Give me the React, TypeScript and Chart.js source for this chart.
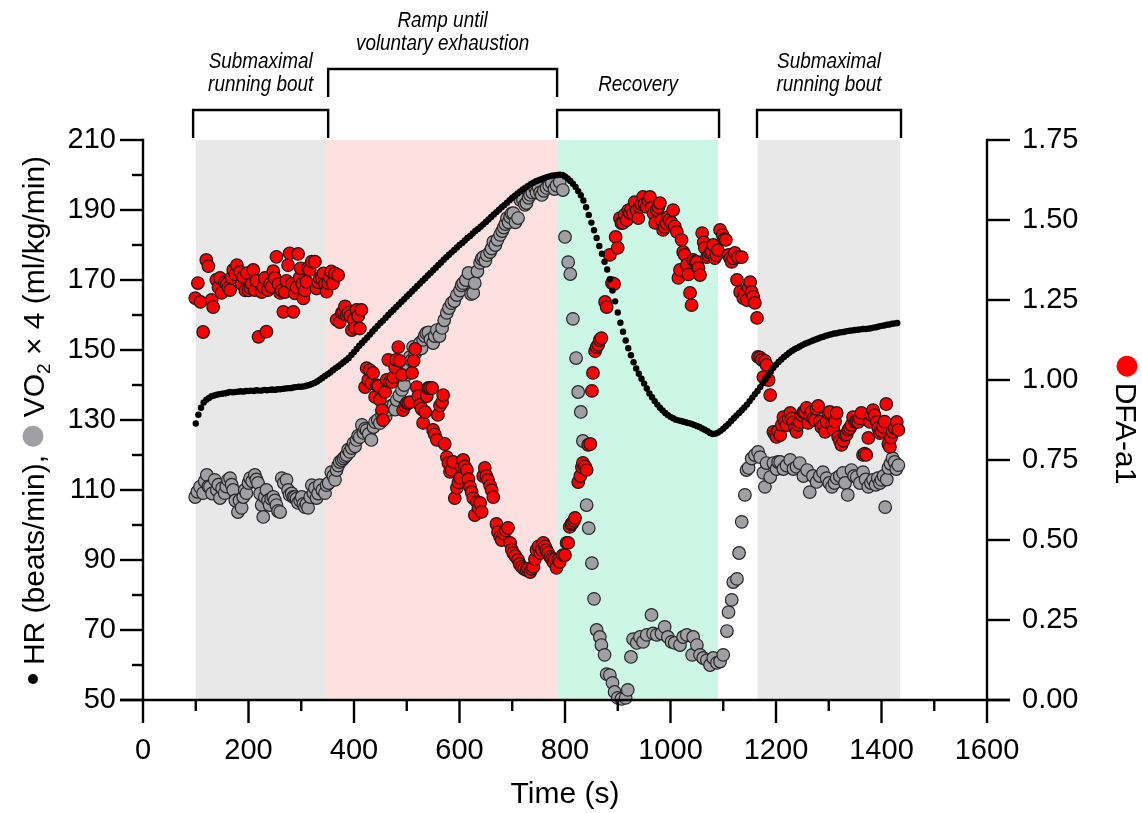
import React, { useEffect, useRef } from "react";
import { Chart, registerables } from "chart.js";

Chart.register(...registerables);

const FONT = "'Liberation Sans', Arial, Helvetica, sans-serif";

// ---------------- data ----------------
// Heart rate (beats/min), one value every 5 s starting at 100 s
const hrStart = 100;
const hrStep = 5;
const hrValues = [
  129, 131.5, 133.5, 135, 135.8, 136.3, 136.8, 137, 137.2, 137.4,
  137.5, 137.6, 137.8, 138, 137.9, 138, 138.1, 138.2, 138.1, 138.3,
  138.3, 138.4, 138.3, 138.5, 138.4, 138.4, 138.6, 138.5, 138.6, 138.7,
  138.6, 138.8, 138.8, 138.9, 139, 139.1, 139.1, 139.3, 139.4, 139.5,
  139.5, 139.6, 139.8, 140, 140.3, 140.6, 141, 141.5, 142, 142.6,
  143.1, 143.6, 144.2, 144.8, 145.3, 145.9, 146.5, 147.1, 147.7, 148.6,
  149.4, 150.3, 151.2, 152, 152.8, 153.6, 154.4, 155.3, 156.1, 156.9,
  157.7, 158.4, 159.2, 160, 160.8, 161.5, 162.3, 163, 163.8, 164.5,
  165.3, 166, 166.8, 167.5, 168.3, 169, 169.8, 170.5, 171.3, 172,
  172.8, 173.5, 174.3, 175, 175.8, 176.5, 177.2, 177.9, 178.6, 179.3,
  180, 180.6, 181.3, 182, 182.6, 183.3, 184, 184.6, 185.2, 185.9,
  186.6, 187.3, 188, 188.7, 189.4, 190.1, 190.8, 191.4, 192.1, 192.8,
  193.5, 194.1, 194.7, 195.3, 195.9, 196.4, 196.9, 197.4, 197.8, 198.2,
  198.5, 198.8, 199.1, 199.4, 199.6, 199.8, 199.9, 200,
  200.1, 200, 199.6, 199, 198.3, 197.5, 196.6, 195.4, 194.2, 192.7,
  190.8, 188.6, 186.4, 184.2, 182, 179.7, 177.5, 175.2, 173, 170.2,
  167, 163.9, 160.7, 157.8, 155.2, 152.7, 150.5, 148.5, 146.5, 144.7,
  143.2, 141.8, 140.4, 139, 137.6, 136.5, 135.4, 134.4, 133.5, 132.7,
  132, 131.4, 130.9, 130.5, 130.1, 129.9, 129.7, 129.5, 129.3, 129.1,
  128.9, 128.6, 128.3, 128, 127.6, 127.2, 126.8, 126.3, 126, 126.1,
  126.4, 126.9, 127.5, 128.2, 128.9, 129.7, 130.5, 131.3, 132, 132.8,
  133.6, 134.4, 135.4, 136.4, 137.4, 138.3, 139.4, 140.5, 141.6, 142.7,
  143.8, 144.9, 145.8, 146.6, 147.3, 148, 148.6, 149.2, 149.7, 150.2,
  150.6, 151, 151.4, 151.8, 152.1, 152.4, 152.7, 153, 153.3, 153.6,
  153.8, 154.1, 154.3, 154.5, 154.7, 154.8, 155, 155.1, 155.2, 155.4,
  155.5, 155.6, 155.7, 155.8, 155.9, 156, 156, 156.1, 156.2, 156.4,
  156.5, 156.7, 156.9, 157, 157.2, 157.3, 157.5, 157.6, 157.7,
];

// VO2 x 4 (ml/kg/min): [time s, value]
const vo2Samples: [number, number][] = [
  [99, 108], [103, 109.5], [108, 110.9], [114, 109.1], [117, 112.5], [121, 114.3], [124, 111], [127, 110.9],
  [131, 109], [136, 112.9], [140, 110], [143, 111.5], [146, 107.7], [150, 110.5], [155, 109.1], [158, 111],
  [161, 112.9], [165, 113.4], [168, 111.5], [171, 110], [175, 107], [180, 103.7], [183, 107], [187, 104.9],
  [190, 108], [193, 110], [196, 109.1], [200, 112], [203, 113.4], [207, 112.5], [212, 114.3], [215, 113],
  [218, 112], [222, 109], [225, 105.7], [228, 102.3], [231, 108], [234, 110], [237, 107], [240, 105.7],
  [243, 107.5], [247, 108], [250, 107], [253, 105.7], [256, 104], [260, 103.7], [263, 113.4], [267, 112],
  [272, 112.9], [275, 110], [278, 108.6], [282, 109], [285, 108], [288, 108], [291, 107.5], [294, 106.3],
  [298, 107], [301, 108], [304, 106], [307, 105.1], [310, 106], [313, 104.9], [317, 108], [320, 111.4],
  [323, 109.1], [326, 110.5], [329, 107.7], [332, 109], [335, 111.4], [340, 110], [345, 109.1], [348, 111.4],
  [352, 112], [357, 115.1], [361, 114], [364, 112.9], [367, 115.7], [370, 117], [373, 118], [377, 118.5],
  [380, 119], [383, 119.5], [386, 120], [389, 121.5], [392, 120.9], [396, 122], [399, 123.4], [402, 122.5],
  [405, 124.3], [408, 125.5], [411, 125.1], [415, 128.6], [418, 126.3], [421, 127.5], [424, 127.1], [428, 126],
  [433, 124.3], [437, 128], [440, 129.4], [445, 130], [449, 129.1], [453, 131.5], [456, 132.3], [460, 131],
  [465, 132.9], [470, 134], [475, 134.3], [478, 133], [481, 135.7], [486, 137], [491, 138.6], [495, 140],
  [500, 143], [503, 145], [506, 148], [509, 147], [512, 150.9], [516, 149], [519, 150], [522, 151],
  [525, 152], [528, 150.5], [531, 152.9], [534, 154], [537, 154.8], [541, 155], [545, 153], [550, 152],
  [553, 154], [557, 155.7], [562, 154], [567, 156.3], [571, 158.5], [576, 160.6], [580, 162], [585, 163.4],
  [590, 164], [595, 165.7], [601, 167], [604, 168.5], [607, 169.1], [612, 170], [617, 172], [622, 166],
  [626, 166.3], [629, 169.1], [634, 172.5], [639, 174.9], [642, 176], [645, 176.5], [649, 175.5], [652, 177.1],
  [658, 178], [661, 179], [664, 180.9], [668, 180], [672, 181.5], [677, 182.9], [681, 184], [684, 185],
  [687, 186], [690, 187.7], [693, 186.5], [696, 188], [699, 189], [702, 189.1], [706, 186.5], [711, 187.7],
  [715, 192.9], [720, 193], [724, 191.5], [727, 192], [731, 193.5], [734, 194.3], [738, 195], [743, 196.3],
  [746, 195], [750, 196.5], [753, 195], [756, 194.3], [760, 195.5], [765, 196.3], [770, 197], [775, 197.7],
  [780, 196], [784, 197], [790, 198], [796, 195.7],
  [800, 182.3], [806, 175.1], [810, 171.7], [815, 158.9], [821, 147.7], [825, 138], [830, 132.3], [834, 124],
  [841, 105.7], [845, 99.1], [851, 89.1], [855, 78.9], [860, 70], [866, 68], [869, 65.7], [875, 62.9],
  [879, 57.4], [885, 57.1], [890, 54.9], [894, 52.3], [900, 50.6], [907, 50.3], [915, 50.6], [919, 52.9],
  [925, 62.3], [929, 67.4], [936, 66.3], [942, 68], [948, 66.6], [955, 68.6], [964, 74.3], [967, 69],
  [974, 68.6], [983, 69], [989, 70.9], [995, 68], [1002, 66.6], [1008, 66.3], [1018, 65.7], [1024, 68],
  [1031, 68.6], [1041, 62.9], [1043, 68], [1050, 65.7], [1056, 62.9], [1062, 62], [1069, 61.4], [1075, 60],
  [1081, 62], [1088, 60.6], [1094, 61], [1100, 62.9], [1107, 69.7], [1110, 75.1], [1116, 78.6], [1119, 83.7],
  [1126, 84.6], [1130, 92], [1135, 100.9], [1141, 108.6], [1144, 115.7], [1148, 116.3], [1154, 119], [1160, 120],
  [1166, 120.9], [1170, 119.4], [1176, 114.9], [1179, 110.9], [1182, 117.7], [1189, 113.7], [1195, 117.7], [1201, 116],
  [1204, 118], [1208, 118], [1214, 116], [1220, 117], [1227, 118.6], [1233, 116], [1239, 116.6], [1245, 117.7],
  [1252, 114], [1259, 115.7], [1264, 109.4], [1270, 114], [1277, 112.3], [1283, 114], [1289, 115.1], [1296, 113.4],
  [1301, 112], [1306, 110.9], [1311, 112], [1315, 113.4], [1321, 114], [1327, 114.9], [1331, 112], [1336, 108.6],
  [1343, 115.7], [1348, 114], [1353, 113.7], [1359, 112], [1365, 115.1], [1370, 113], [1375, 110.9], [1380, 112],
  [1384, 112.9], [1389, 111.5], [1393, 113.4], [1397, 112], [1400, 112.9], [1404, 114], [1407, 105.1], [1410, 113],
  [1413, 116.3], [1417, 117.5], [1421, 119.1], [1425, 118], [1428, 116], [1432, 117.1],
];

// DFA-a1: [time s, value]
const dfaSamples: [number, number][] = [
  [99, 1.256], [104, 1.303], [109, 1.244], [114, 1.15], [120, 1.375], [124, 1.356], [130, 1.25], [133, 1.228],
  [139, 1.313], [143, 1.29], [146, 1.319], [149, 1.272], [155, 1.306], [159, 1.3], [162, 1.288], [165, 1.281],
  [168, 1.32], [171, 1.344], [175, 1.33], [178, 1.359], [184, 1.338], [187, 1.3], [190, 1.322], [194, 1.28],
  [197, 1.334], [200, 1.28], [203, 1.288], [206, 1.3], [209, 1.344], [212, 1.281], [215, 1.31], [219, 1.135],
  [225, 1.275], [228, 1.29], [231, 1.319], [234, 1.151], [237, 1.281], [241, 1.3], [244, 1.291], [247, 1.34],
  [250, 1.319], [253, 1.385], [257, 1.3], [260, 1.272], [263, 1.28], [266, 1.213], [269, 1.275], [272, 1.31],
  [275, 1.359], [278, 1.396], [282, 1.3], [285, 1.213], [288, 1.271], [291, 1.29], [294, 1.394], [297, 1.32],
  [299, 1.349], [302, 1.3], [304, 1.255], [307, 1.28], [310, 1.307], [313, 1.35], [316, 1.344], [320, 1.37],
  [326, 1.37], [329, 1.286], [332, 1.306], [335, 1.318], [339, 1.319], [342, 1.333], [345, 1.3], [348, 1.276],
  [351, 1.303], [354, 1.32], [357, 1.339], [360, 1.302], [364, 1.333], [370, 1.328],
  [367, 1.188], [373, 1.181], [377, 1.21], [380, 1.213], [383, 1.23], [386, 1.203], [389, 1.21], [393, 1.2],
  [396, 1.156], [399, 1.188], [402, 1.163], [405, 1.219], [408, 1.2], [411, 1.161], [414, 1.219],
  [421, 0.978], [424, 1.037], [427, 1.0], [430, 1.031], [433, 0.99], [436, 1.022], [440, 0.947], [443, 0.984],
  [446, 0.981], [449, 0.938], [453, 0.906], [455, 0.875], [459, 0.963], [462, 1.0], [465, 1.063], [468, 0.994],
  [472, 0.994], [475, 1.009], [478, 1.04], [480, 1.063], [484, 1.103], [487, 1.06], [491, 1.016], [493, 0.906],
  [497, 0.92], [500, 0.928], [503, 0.928], [506, 0.931], [510, 1.022], [513, 1.06], [516, 1.097], [519, 0.978],
  [522, 0.95], [525, 0.922], [528, 0.91], [531, 0.866], [535, 0.9], [538, 0.95], [541, 0.975], [544, 0.975],
  [548, 0.975], [550, 0.844], [553, 0.83], [557, 0.813], [559, 0.891], [563, 0.92], [567, 0.931], [569, 0.953],
  [572, 0.8], [576, 0.759], [579, 0.74], [582, 0.713], [585, 0.72], [588, 0.744], [591, 0.631], [595, 0.663],
  [598, 0.68], [601, 0.694], [604, 0.73], [607, 0.75], [610, 0.73], [614, 0.719], [617, 0.69], [620, 0.666],
  [623, 0.65], [626, 0.631], [629, 0.578], [633, 0.619], [636, 0.6], [639, 0.616], [642, 0.588], [645, 0.7],
  [648, 0.725], [651, 0.7], [654, 0.688], [658, 0.67], [661, 0.656], [664, 0.634], [670, 0.55], [673, 0.525],
  [677, 0.51], [680, 0.5], [684, 0.52], [688, 0.53], [692, 0.538], [696, 0.491], [699, 0.47], [702, 0.459],
  [706, 0.45], [711, 0.438], [714, 0.425], [718, 0.416], [722, 0.41], [727, 0.406], [730, 0.41], [734, 0.4],
  [737, 0.41], [740, 0.416], [743, 0.44], [746, 0.469], [750, 0.48], [753, 0.459], [756, 0.47], [759, 0.491],
  [762, 0.48], [765, 0.469], [768, 0.46], [772, 0.447], [775, 0.44], [778, 0.431], [781, 0.44], [784, 0.413],
  [787, 0.438], [790, 0.431], [796, 0.453], [800, 0.453], [803, 0.491], [806, 0.491], [809, 0.541], [812, 0.55],
  [814, 0.553], [817, 0.56], [819, 0.569], [825, 0.681], [829, 0.7], [832, 0.728], [834, 0.741], [838, 0.73],
  [841, 0.719], [844, 0.797], [848, 0.8], [851, 0.966], [853, 1.022], [857, 1.09], [860, 1.103], [863, 1.11],
  [866, 1.125], [869, 1.131], [876, 1.244], [879, 1.228], [885, 1.391], [889, 1.303], [893, 1.3], [896, 1.447],
  [900, 1.413], [904, 1.506], [907, 1.49], [910, 1.491], [913, 1.516], [917, 1.5], [920, 1.53], [923, 1.522],
  [926, 1.535], [929, 1.52], [932, 1.556], [936, 1.53], [939, 1.506], [942, 1.541], [945, 1.55], [948, 1.572],
  [951, 1.55], [955, 1.541], [958, 1.56], [961, 1.572], [964, 1.538], [968, 1.52], [971, 1.491], [974, 1.531],
  [977, 1.54], [980, 1.553], [983, 1.5], [986, 1.469], [989, 1.478], [992, 1.49], [995, 1.509], [998, 1.5],
  [1002, 1.491], [1005, 1.531], [1008, 1.48], [1012, 1.463], [1015, 1.319], [1018, 1.344], [1021, 1.438], [1024, 1.4],
  [1027, 1.391], [1031, 1.36], [1034, 1.33], [1037, 1.272], [1040, 1.234], [1043, 1.375], [1047, 1.37], [1050, 1.369],
  [1053, 1.35], [1056, 1.328], [1060, 1.459], [1063, 1.43], [1065, 1.413], [1069, 1.384], [1072, 1.39], [1075, 1.397],
  [1078, 1.4], [1081, 1.422], [1084, 1.381], [1087, 1.39], [1090, 1.406], [1094, 1.469], [1099, 1.453], [1102, 1.44],
  [1105, 1.438], [1110, 1.391], [1113, 1.38], [1116, 1.369], [1119, 1.38], [1122, 1.397], [1126, 1.313], [1128, 1.384],
  [1132, 1.275], [1135, 1.384], [1138, 1.256], [1141, 1.27], [1145, 1.25], [1148, 1.29], [1151, 1.306], [1154, 1.275],
  [1157, 1.26], [1160, 1.241], [1164, 1.194], [1166, 1.072], [1170, 1.07], [1173, 1.063], [1176, 1.009], [1179, 1.06],
  [1182, 1.047], [1186, 1.0], [1189, 0.953], [1195, 0.838], [1198, 0.83], [1201, 0.822], [1204, 0.84], [1208, 0.828],
  [1211, 0.86], [1214, 0.884], [1217, 0.87], [1220, 0.859], [1224, 0.88], [1227, 0.897], [1230, 0.88], [1233, 0.869],
  [1236, 0.85], [1239, 0.838], [1242, 0.86], [1245, 0.869], [1249, 0.89], [1252, 0.9], [1255, 0.9], [1258, 0.913],
  [1261, 0.866], [1264, 0.89], [1267, 0.9], [1271, 0.88], [1274, 0.875], [1277, 0.91], [1280, 0.919], [1283, 0.87],
  [1286, 0.853], [1290, 0.86], [1293, 0.838], [1296, 0.87], [1299, 0.897], [1302, 0.9], [1306, 0.86], [1309, 0.844],
  [1312, 0.87], [1315, 0.897], [1318, 0.822], [1321, 0.81], [1324, 0.797], [1328, 0.81], [1331, 0.828], [1334, 0.83],
  [1337, 0.844], [1340, 0.85], [1343, 0.859], [1346, 0.884], [1350, 0.87], [1353, 0.87], [1356, 0.869], [1359, 0.88],
  [1362, 0.897], [1365, 0.766], [1368, 0.77], [1371, 0.766], [1375, 0.819], [1378, 0.869], [1381, 0.89], [1384, 0.906],
  [1387, 0.89], [1391, 0.869], [1394, 0.85], [1397, 0.834], [1400, 0.84], [1403, 0.853], [1406, 0.87], [1409, 0.925],
  [1413, 0.8], [1416, 0.791], [1418, 0.82], [1421, 0.838], [1425, 0.85], [1429, 0.869], [1432, 0.844],
];

// axis ranges: [min, max, step]
const timeAxis = [0, 1600, 200];
const leftAxis = [50, 210, 20];
const rightAxis = [0, 1.75, 0.25];

// exercise phases (s)
const phaseStart = [100, 345, 785, 1165];
const phaseEnd = [345, 785, 1090, 1435];
const phaseColors = ["#e8e8e8", "#fde0e0", "#ccf6e6", "#e8e8e8"];
const bracketStart = [95, 351, 785, 1164];
const bracketEnd = [351, 785, 1092, 1437];
const bracketRaised = [false, true, false, false];
const bracketLabels = [
  ["Submaximal", "running bout"],
  ["Ramp until", "voluntary exhaustion"],
  ["Recovery"],
  ["Submaximal", "running bout"],
];

// ---------------- drawing helpers ----------------
const decorPlugin = {
  id: "decor",
  beforeDatasetsDraw(chart: any) {
    const { ctx, chartArea: a, scales } = chart;
    const xs = scales.x;
    ctx.save();
    phaseStart.forEach((s, i) => {
      const x0 = xs.getPixelForValue(s);
      const x1 = xs.getPixelForValue(phaseEnd[i]);
      ctx.fillStyle = phaseColors[i];
      ctx.fillRect(x0, a.top, x1 - x0, a.bottom - a.top);
    });
    ctx.restore();
  },
  afterDraw(chart: any) {
    const { ctx, chartArea: a, scales } = chart;
    const xs = scales.x;
    const yl = scales.y;
    const yr = scales.y1;
    const MAJ = 23;
    const MIN = 11;
    ctx.save();
    ctx.strokeStyle = "#000";
    ctx.lineWidth = 2.4;
    ctx.lineCap = "butt";
    const seg = (x1: number, y1: number, x2: number, y2: number) => {
      ctx.beginPath();
      ctx.moveTo(x1, y1);
      ctx.lineTo(x2, y2);
      ctx.stroke();
    };
    // axis lines
    seg(a.left, a.top - 1.2, a.left, a.bottom);
    seg(a.right, a.top - 1.2, a.right, a.bottom);
    seg(a.left - MAJ, a.bottom, a.right + MAJ, a.bottom);
    // left ticks
    const ylv = yl.ticks.map((t: any) => t.value);
    ylv.forEach((v: number, i: number) => {
      const p = yl.getPixelForValue(v);
      seg(a.left - MAJ, p, a.left, p);
      if (i < ylv.length - 1) {
        const pm = yl.getPixelForValue((v + ylv[i + 1]) / 2);
        seg(a.left - MIN, pm, a.left, pm);
      }
    });
    // right ticks
    yr.ticks.forEach((t: any) => {
      const p = yr.getPixelForValue(t.value);
      seg(a.right, p, a.right + MAJ, p);
    });
    // bottom ticks
    const xv = xs.ticks.map((t: any) => t.value);
    xv.forEach((v: number, i: number) => {
      const p = xs.getPixelForValue(v);
      seg(p, a.bottom, p, a.bottom + MAJ);
      if (i < xv.length - 1) {
        const pm = xs.getPixelForValue((v + xv[i + 1]) / 2);
        seg(pm, a.bottom, pm, a.bottom + MIN);
      }
    });

    // brackets with labels
    ctx.lineJoin = "miter";
    bracketStart.forEach((s, i) => {
      const x0 = xs.getPixelForValue(s);
      const x1 = xs.getPixelForValue(bracketEnd[i]);
      const top = bracketRaised[i] ? a.top - 71 : a.top - 30;
      ctx.beginPath();
      ctx.moveTo(x0, top + 28);
      ctx.lineTo(x0, top);
      ctx.lineTo(x1, top);
      ctx.lineTo(x1, top + 28);
      ctx.stroke();
      const lines = bracketLabels[i];
      ctx.fillStyle = "#000";
      ctx.font = `italic 22.5px ${FONT}`;
      ctx.textAlign = "center";
      ctx.textBaseline = "alphabetic";
      const cx = (x0 + x1) / 2;
      lines.forEach((ln, j) => {
        const base = top - 19 - (lines.length - 1 - j) * 23;
        ctx.save();
        ctx.translate(cx, base);
        ctx.scale(0.84, 1);
        ctx.fillText(ln, 0, 0);
        ctx.restore();
      });
    });

    // x title
    ctx.font = `30px ${FONT}`;
    ctx.textAlign = "center";
    ctx.textBaseline = "alphabetic";
    ctx.fillStyle = "#000";
    ctx.fillText("Time (s)", (a.left + a.right) / 2, a.bottom + 103);

    // left title (rotated)
    const capHalf = 10.7;
    ctx.save();
    ctx.translate(33, (a.top + a.bottom) / 2);
    ctx.rotate(-Math.PI / 2);
    ctx.textAlign = "left";
    const big = `30px ${FONT}`;
    const small = `19px ${FONT}`;
    ctx.font = big;
    const t1 = "HR (beats/min), ";
    const t2 = " VO";
    const t3 = " \u00d7 4 (ml/kg/min)";
    const w1 = ctx.measureText(t1).width;
    const w2 = ctx.measureText(t2).width;
    const w3 = ctx.measureText(t3).width;
    ctx.font = small;
    const wSub = ctx.measureText("2").width;
    const dotD = 10;
    const gap = 9;
    const circD = 21;
    const total = dotD + gap + w1 + circD + w2 + wSub + w3;
    let cx = -total / 2;
    ctx.fillStyle = "#000";
    ctx.beginPath();
    ctx.arc(cx + dotD / 2, 0, dotD / 2, 0, Math.PI * 2);
    ctx.fill();
    cx += dotD + gap;
    ctx.font = big;
    ctx.fillText(t1, cx, capHalf);
    cx += w1;
    ctx.fillStyle = "#a0a0a4";
    ctx.beginPath();
    ctx.arc(cx + circD / 2, 0, circD / 2, 0, Math.PI * 2);
    ctx.fill();
    cx += circD;
    ctx.fillStyle = "#000";
    ctx.fillText(t2, cx, capHalf);
    cx += w2;
    ctx.font = small;
    ctx.fillText("2", cx, capHalf + 6);
    cx += wSub;
    ctx.font = big;
    ctx.fillText(t3, cx, capHalf);
    ctx.restore();

    // right title (rotated)
    ctx.save();
    ctx.translate(1127, (a.top + a.bottom) / 2);
    ctx.rotate(Math.PI / 2);
    ctx.font = big;
    ctx.textAlign = "left";
    const tr = "DFA-a1";
    const wr = ctx.measureText(tr).width;
    const rd = 21;
    const rgap = 6;
    const totalR = rd + rgap + wr;
    let rx = -totalR / 2;
    ctx.fillStyle = "#ff0000";
    ctx.beginPath();
    ctx.arc(rx + rd / 2, 0, rd / 2, 0, Math.PI * 2);
    ctx.fill();
    rx += rd + rgap;
    ctx.fillStyle = "#000";
    ctx.fillText(tr, rx, capHalf);
    ctx.restore();

    ctx.restore();
  },
};

export default function App() {
  const canvasRef = useRef<HTMLCanvasElement | null>(null);

  useEffect(() => {
    const canvas = canvasRef.current;
    if (!canvas) return;
    const hrData = hrValues.map((v, i) => ({ x: hrStart + i * hrStep, y: v }));
    const vo2Data = vo2Samples.map(([t, v]) => ({ x: t, y: v }));
    const dfaData = dfaSamples.map(([t, v]) => ({ x: t, y: v }));

    const tickFont = { family: FONT, size: 29 };

    const chart = new Chart(canvas, {
      type: "scatter",
      data: {
        datasets: [
          {
            label: "HR",
            data: hrData,
            yAxisID: "y",
            pointRadius: 3.2,
            pointBackgroundColor: "#000",
            pointBorderWidth: 0,
            backgroundColor: "#000",
            borderColor: "#000",
            order: 0,
            clip: false,
          },
          {
            label: "DFA-a1",
            data: dfaData,
            yAxisID: "y1",
            pointRadius: 6.3,
            pointBackgroundColor: "#ff0000",
            pointBorderColor: "#1a1a1a",
            pointBorderWidth: 1.2,
            backgroundColor: "#ff0000",
            borderColor: "#1a1a1a",
            order: 1,
            clip: false,
          },
          {
            label: "VO2",
            data: vo2Data,
            yAxisID: "y",
            pointRadius: 6.3,
            pointBackgroundColor: "#a0a0a4",
            pointBorderColor: "#262626",
            pointBorderWidth: 1.2,
            backgroundColor: "#a0a0a4",
            borderColor: "#262626",
            order: 2,
            clip: false,
          },
        ],
      } as any,
      options: {
        animation: false,
        responsive: false,
        devicePixelRatio: 1,
        events: [],
        layout: { padding: { top: 140, left: 0, right: 0, bottom: 0 } },
        plugins: {
          legend: { display: false },
          tooltip: { enabled: false },
        },
        scales: {
          x: {
            type: "linear",
            position: "bottom",
            min: timeAxis[0],
            max: timeAxis[1],
            grid: { display: false, drawTicks: false },
            border: { display: false },
            ticks: {
              stepSize: timeAxis[2],
              color: "#000",
              font: tickFont,
              padding: 34,
              maxRotation: 0,
              callback: (v: any) => String(v),
            },
            afterFit: (s: any) => {
              s.height = 113;
            },
          },
          y: {
            type: "linear",
            position: "left",
            min: leftAxis[0],
            max: leftAxis[1],
            grid: { display: false, drawTicks: false },
            border: { display: false },
            ticks: {
              stepSize: leftAxis[2],
              color: "#000",
              font: tickFont,
              padding: 27,
              callback: (v: any) => String(v),
            },
            afterFit: (s: any) => {
              s.width = 143;
            },
          },
          y1: {
            type: "linear",
            position: "right",
            min: rightAxis[0],
            max: rightAxis[1],
            grid: { display: false, drawTicks: false },
            border: { display: false },
            ticks: {
              stepSize: rightAxis[2],
              color: "#000",
              font: tickFont,
              padding: 35,
              callback: (v: any) => Number(v).toFixed(2),
            },
            afterFit: (s: any) => {
              s.width = 155;
            },
          },
        },
      } as any,
      plugins: [decorPlugin],
    });
    return () => chart.destroy();
  }, []);

  return (
    <div style={{ position: "absolute", left: 0, top: 0, width: 1142, height: 813, background: "#fff" }}>
      <canvas ref={canvasRef} width={1142} height={813} />
    </div>
  );
}
